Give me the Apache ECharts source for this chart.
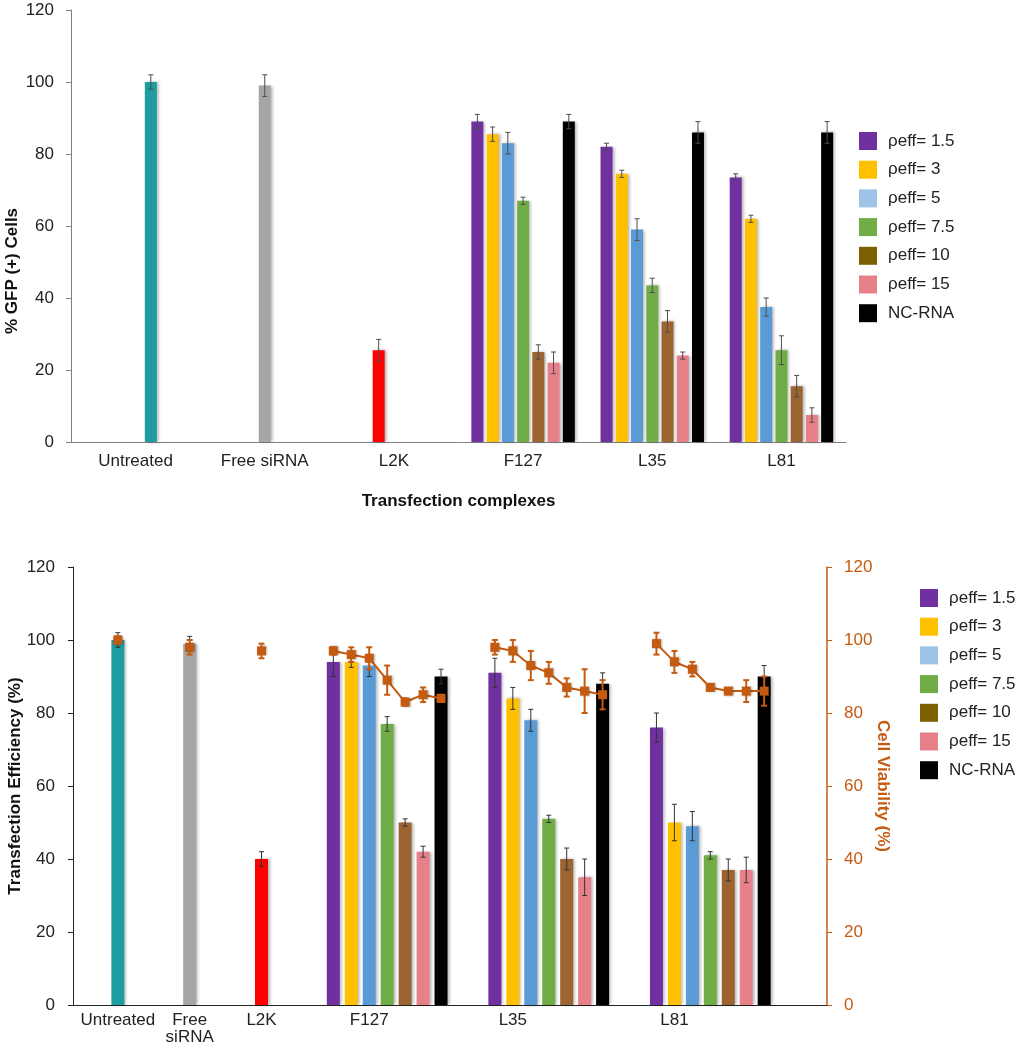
<!DOCTYPE html>
<html>
<head>
<meta charset="utf-8">
<script src="https://cdn.jsdelivr.net/npm/echarts@6/dist/echarts.min.js"></script>
<style>
html,body{margin:0;padding:0;background:#fff;}
#chart{width:1015px;height:1050px;}
</style>
</head>
<body>
<div id="chart"></div>
<script>
// ---------- DATA ----------
const groups = ['Untreated', 'Free siRNA', 'L2K', 'F127', 'L35', 'L81'];
const legendNames = ['ρeff= 1.5', 'ρeff= 3', 'ρeff= 5', 'ρeff= 7.5', 'ρeff= 10', 'ρeff= 15', 'NC-RNA'];
const controlNames = ['Untreated', 'Free siRNA', 'L2K'];

// Top panel: % GFP (+) cells
const topControl    = [100, 99, 25.5];
const topControlErr = [2, 3, 3];
// values for F127, L35, L81
const topRho1_5 = [89, 82, 73.5];   const topRho1_5Err = [2, 1, 1];
const topRho3   = [85.5, 74.5, 62]; const topRho3Err   = [2, 1, 1];
const topRho5   = [83, 59, 37.5];   const topRho5Err   = [3, 3, 2.5];
const topRho7_5 = [67, 43.5, 25.5]; const topRho7_5Err = [1, 2, 4];
const topRho10  = [25, 33.5, 15.5]; const topRho10Err  = [2, 3, 3];
const topRho15  = [22, 24, 7.5];    const topRho15Err  = [3, 1, 2];
const topNC     = [89, 86, 86];     const topNCErr     = [2, 3, 3];

// Bottom panel: transfection efficiency (%)
const botControl    = [100, 99, 40];
const botControlErr = [2, 2, 2];
const botRho1_5 = [94, 91, 76];  const botRho1_5Err = [4, 4, 4];
const botRho3   = [94, 84, 50];  const botRho3Err   = [1.5, 3, 5];
const botRho5   = [93, 78, 49];  const botRho5Err   = [3, 3, 4];
const botRho7_5 = [77, 51, 41];  const botRho7_5Err = [2, 1, 1];
const botRho10  = [50, 40, 37];  const botRho10Err  = [1, 3, 3];
const botRho15  = [42, 35, 37];  const botRho15Err  = [1.5, 5, 3.5];
const botNC     = [90, 88, 90];  const botNCErr     = [2, 3, 3];

// Bottom panel: cell viability (%)
const viabControl    = [100, 98, 97];
const viabControlErr = [1, 2, 2];
const viabF127 = [97, 96, 95, 89, 83, 85, 84]; const viabF127Err = [1, 2, 3, 4, 1, 2, 1];
const viabL35  = [98, 97, 93, 91, 87, 86, 85]; const viabL35Err  = [2, 3, 4, 3, 2.5, 6, 4];
const viabL81  = [99, 94, 92, 87, 86, 86, 86]; const viabL81Err  = [3, 3, 2, 0.5, 0.5, 3, 4];

// ---------- LAYOUT / STYLE ----------
const FONT = 'Liberation Sans, Arial, sans-serif';
const rhoColors = ['#7030A0', '#FFC000', '#5B9BD5', '#70AD47', '#9C6431', '#E8808A', '#000000'];
const legendColors = ['#7030A0', '#FFC000', '#9DC3E6', '#70AD47', '#7F6000', '#E8808A', '#000000'];
const ctrlColors = ['#1E9CA0', '#A6A6A6', '#FF0000'];
const ORANGE = '#C55A11';
const shadow = {shadowColor: 'rgba(0,0,0,0.3)', shadowBlur: 3, shadowOffsetX: 2, shadowOffsetY: 0};

// top: grouped clusters of 7 slots; controls placed into a slot
const topCtrlSlot = [4, 3, 2];
const TOP_BW = 12, TOP_GAP = 0.27, TOP_SLOT_PX = TOP_BW * (1 + TOP_GAP);
// bottom: one bar per category slot
const BOT_SLOTS = 42;
const botCtrlSlot = [2, 6, 10];
const botGroupStart = [14, 23, 32];
const botLabelSlot = [2, 6, 10, 16, 24, 33];

const topRho = [topRho1_5, topRho3, topRho5, topRho7_5, topRho10, topRho15, topNC];
const topRhoErr = [topRho1_5Err, topRho3Err, topRho5Err, topRho7_5Err, topRho10Err, topRho15Err, topNCErr];
const botRho = [botRho1_5, botRho3, botRho5, botRho7_5, botRho10, botRho15, botNC];
const botRhoErr = [botRho1_5Err, botRho3Err, botRho5Err, botRho7_5Err, botRho10Err, botRho15Err, botNCErr];
const viab = [viabF127, viabL35, viabL81];
const viabErr = [viabF127Err, viabL35Err, viabL81Err];

const series = [];

// ---- top bars ----
for (let i = 0; i < 7; i++) {
  series.push({
    type: 'bar', name: legendNames[i], xAxisIndex: 0, yAxisIndex: 0,
    stack: 'k' + i, barWidth: TOP_BW, barGap: (TOP_GAP * 100) + '%',
    itemStyle: Object.assign({color: rhoColors[i]}, shadow),
    data: ['-', '-', '-'].concat(topRho[i]), z: 2
  });
}
for (let j = 0; j < 3; j++) {
  series.push({
    type: 'bar', name: controlNames[j], xAxisIndex: 0, yAxisIndex: 0,
    stack: 'k' + topCtrlSlot[j], barWidth: TOP_BW, barGap: (TOP_GAP * 100) + '%',
    itemStyle: Object.assign({color: ctrlColors[j]}, shadow),
    data: groups.map((g, k) => k === j ? topControl[j] : '-'), z: 2
  });
}
// top error bars
const topErrData = [];
for (let j = 0; j < 3; j++) topErrData.push([j, topCtrlSlot[j], topControl[j], topControlErr[j]]);
for (let i = 0; i < 7; i++) for (let g = 0; g < 3; g++) topErrData.push([g + 3, i, topRho[i][g], topRhoErr[i][g]]);

function errItem(offsetFn, cap, color, width) {
  return function (params, api) {
    const x0 = api.value(0), v = api.value(2), e = api.value(3);
    const hi = api.coord([x0, v + e]), lo = api.coord([x0, v - e]);
    const x = hi[0] + offsetFn(api);
    const st = {stroke: color, lineWidth: width};
    return {type: 'group', children: [
      {type: 'line', shape: {x1: x, y1: hi[1], x2: x, y2: lo[1]}, style: st},
      {type: 'line', shape: {x1: x - cap, y1: hi[1], x2: x + cap, y2: hi[1]}, style: st},
      {type: 'line', shape: {x1: x - cap, y1: lo[1], x2: x + cap, y2: lo[1]}, style: st}
    ]};
  };
}
series.push({
  type: 'custom', xAxisIndex: 0, yAxisIndex: 0, z: 5,
  renderItem: errItem(api => (api.value(1) - 3) * TOP_SLOT_PX, 2.5, '#4d4d4d', 1),
  encode: {x: 0, y: 2}, data: topErrData, silent: true
});

// ---- bottom bars ----
function emptySlots() { return new Array(BOT_SLOTS).fill('-'); }
for (let i = 0; i < 7; i++) {
  const d = emptySlots();
  for (let g = 0; g < 3; g++) d[botGroupStart[g] + i] = botRho[i][g];
  series.push({
    type: 'bar', name: legendNames[i], xAxisIndex: 1, yAxisIndex: 1,
    barWidth: 13, barGap: '-100%',
    itemStyle: Object.assign({color: rhoColors[i]}, shadow), data: d, z: 2
  });
}
for (let j = 0; j < 3; j++) {
  const d = emptySlots();
  d[botCtrlSlot[j]] = botControl[j];
  series.push({
    type: 'bar', name: controlNames[j], xAxisIndex: 1, yAxisIndex: 1,
    barWidth: 13, barGap: '-100%',
    itemStyle: Object.assign({color: ctrlColors[j]}, shadow), data: d, z: 2
  });
}
const botErrData = [];
for (let j = 0; j < 3; j++) botErrData.push([botCtrlSlot[j], 0, botControl[j], botControlErr[j]]);
for (let i = 0; i < 7; i++) for (let g = 0; g < 3; g++) botErrData.push([botGroupStart[g] + i, 0, botRho[i][g], botRhoErr[i][g]]);
series.push({
  type: 'custom', xAxisIndex: 1, yAxisIndex: 1, z: 5,
  renderItem: errItem(() => 0, 2.5, '#333333', 1),
  encode: {x: 0, y: 2}, data: botErrData, silent: true
});

// ---- viability line ----
const viabLine = emptySlots();
const viabErrData = [];
for (let j = 0; j < 3; j++) {
  viabLine[botCtrlSlot[j]] = viabControl[j];
  viabErrData.push([botCtrlSlot[j], 0, viabControl[j], viabControlErr[j]]);
}
for (let g = 0; g < 3; g++) for (let i = 0; i < 7; i++) {
  viabLine[botGroupStart[g] + i] = viab[g][i];
  viabErrData.push([botGroupStart[g] + i, 0, viab[g][i], viabErr[g][i]]);
}
series.push({
  type: 'line', name: 'Cell Viability', xAxisIndex: 1, yAxisIndex: 2, z: 6,
  data: viabLine, connectNulls: false, showAllSymbol: true,
  symbol: 'rect', symbolSize: 9,
  lineStyle: {color: ORANGE, width: 2},
  itemStyle: {color: ORANGE, shadowColor: 'rgba(0,0,0,0.3)', shadowBlur: 2, shadowOffsetX: 1},
  emphasis: {disabled: true}
});
series.push({
  type: 'custom', xAxisIndex: 1, yAxisIndex: 2, z: 7,
  renderItem: errItem(() => 0, 3, ORANGE, 2),
  encode: {x: 0, y: 2}, data: viabErrData, silent: true
});

const botCategories = new Array(BOT_SLOTS).fill('');
botLabelSlot.forEach((s, k) => { botCategories[s] = groups[k] === 'Free siRNA' ? 'Free\nsiRNA' : groups[k]; });

const labelStyle = {fontFamily: FONT, fontSize: 17, color: '#222'};
const titleStyle = {fontFamily: FONT, fontSize: 17, fontWeight: 'bold', color: '#111'};

const legendBase = {
  orient: 'vertical', itemWidth: 18, itemHeight: 18, itemGap: 10.7, padding: 0,
  textStyle: {fontFamily: FONT, fontSize: 17, color: '#222', lineHeight: 18, padding: [0, 0, 0, 6]},
  icon: 'rect', selectedMode: false,
  data: legendNames.map((n, i) => ({name: n, itemStyle: {color: legendColors[i]}}))
};

const option = {
  animation: false,
  backgroundColor: '#fff',
  textStyle: {fontFamily: FONT},
  grid: [
    {left: 71, top: 10, width: 775, height: 432, containLabel: false, outerBoundsMode: 'none'},
    {left: 73, top: 567, width: 754, height: 438, containLabel: false, outerBoundsMode: 'none'}
  ],
  legend: [
    Object.assign({left: 859, top: 132}, legendBase),
    Object.assign({left: 920, top: 589}, legendBase)
  ],
  xAxis: [
    {
      type: 'category', gridIndex: 0, data: groups,
      axisLine: {lineStyle: {color: '#808080', width: 1}},
      axisTick: {length: 5, lineStyle: {color: '#808080'}},
      axisLabel: Object.assign({margin: 11, interval: 0}, labelStyle),
      name: 'Transfection complexes', nameLocation: 'middle', nameGap: 51,
      nameMoveOverlap: false,
      nameTextStyle: titleStyle
    },
    {
      type: 'category', gridIndex: 1, data: botCategories,
      axisLine: {lineStyle: {color: '#222', width: 1}},
      axisTick: {length: 6, interval: 2, lineStyle: {color: '#222'}},
      axisLabel: Object.assign({margin: 7, interval: 0, lineHeight: 17}, labelStyle)
    }
  ],
  yAxis: [
    {
      type: 'value', gridIndex: 0, min: 0, max: 120, interval: 20,
      axisLine: {show: true, lineStyle: {color: '#808080'}},
      axisTick: {show: true, length: 5, lineStyle: {color: '#808080'}},
      splitLine: {show: false},
      axisLabel: Object.assign({margin: 17}, labelStyle),
      name: '% GFP (+) Cells', nameLocation: 'middle', nameGap: 50, nameMoveOverlap: false,
      nameTextStyle: Object.assign({padding: [0, 90, 0, 0]}, titleStyle)
    },
    {
      type: 'value', gridIndex: 1, min: 0, max: 120, interval: 20,
      axisLine: {show: true, lineStyle: {color: '#222'}},
      axisTick: {show: true, length: 5, lineStyle: {color: '#222'}},
      splitLine: {show: false},
      axisLabel: Object.assign({margin: 18}, labelStyle),
      name: 'Transfection Efficiency (%)', nameLocation: 'middle', nameGap: 49, nameMoveOverlap: false,
      nameTextStyle: titleStyle
    },
    {
      type: 'value', gridIndex: 1, position: 'right', min: 0, max: 120, interval: 20,
      axisLine: {show: true, lineStyle: {color: ORANGE, width: 1.5}},
      axisTick: {show: true, length: 5, lineStyle: {color: ORANGE}},
      splitLine: {show: false},
      axisLabel: Object.assign({}, labelStyle, {margin: 17, color: ORANGE}),
      name: 'Cell Viability (%)', nameLocation: 'middle', nameGap: 47, nameRotate: -90, nameMoveOverlap: false,
      nameTextStyle: Object.assign({}, titleStyle, {color: ORANGE})
    }
  ],
  series: series
};

const chart = echarts.init(document.getElementById('chart'), null, {renderer: 'canvas'});
chart.setOption(option);
</script>
</body>
</html>
